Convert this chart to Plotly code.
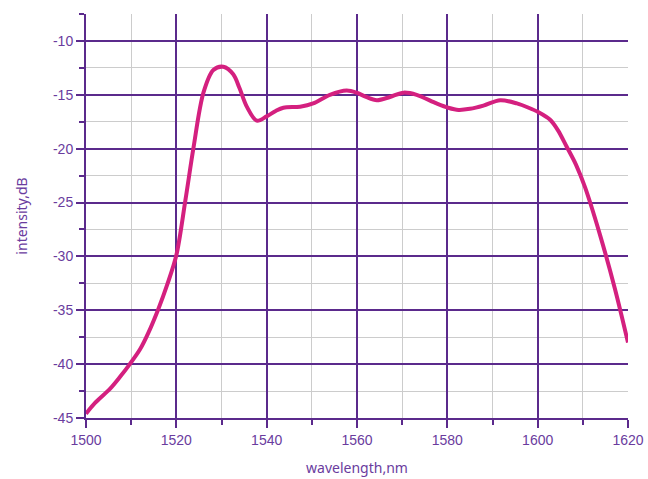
import plotly.graph_objects as go

wavelength = [1500, 1502, 1505.3, 1507.5, 1509.7, 1512, 1513.8, 1516, 1518, 1520,
              1522, 1523.8, 1526, 1528.2, 1530.4, 1532.6, 1534, 1535.6, 1537.8, 1540,
              1542, 1543.7, 1547.4, 1550.3, 1554, 1557.7, 1559.9, 1562, 1564.4, 1567.3, 1570.3,
              1573.2, 1577.6, 1580.2, 1582.5, 1585, 1588, 1591.7, 1595.4, 1598, 1600.1,
              1602.7, 1604.5, 1606.4, 1608.5, 1610.5, 1613.8, 1617.1, 1620]
intensity = [-44.6, -43.6, -42.3, -41.2, -40.0, -38.6, -37.1, -34.9, -32.6, -29.9,
             -24.8, -19.9, -14.8, -12.7, -12.4, -13.1, -14.4, -16.1, -17.4, -17.0,
             -16.5, -16.2, -16.1, -15.8, -15.0, -14.6, -14.8, -15.2, -15.5, -15.2, -14.8,
             -15.0, -15.8, -16.2, -16.4, -16.3, -16.0, -15.5, -15.8, -16.2, -16.6,
             -17.3, -18.3, -19.8, -21.5, -23.6, -28.0, -33.0, -38.0]

x_major = [1500, 1520, 1540, 1560, 1580, 1600, 1620]
y_major = [-45, -40, -35, -30, -25, -20, -15, -10]

PURPLE = "#5b2a8c"
TEXT = "#6a3c9e"
MAG = "#d4207f"

fig = go.Figure()
fig.add_trace(go.Scatter(x=wavelength, y=intensity, mode="lines",
                         line=dict(color=MAG, width=4, shape="spline", smoothing=0.9),
                         showlegend=False, hoverinfo="skip"))

fig.update_layout(
    width=648, height=479,
    margin=dict(l=86, r=20, t=14, b=61, autoexpand=False),
    plot_bgcolor="white", paper_bgcolor="white",
    font=dict(family="Liberation Sans", color=TEXT, size=14),
)
fig.update_xaxes(
    range=[1500, 1620], tickvals=x_major, ticktext=[str(v) for v in x_major],
    showgrid=True, gridcolor=PURPLE, gridwidth=2,
    showline=True, linecolor=PURPLE, linewidth=2,
    ticks="outside", ticklen=8, tickwidth=2, tickcolor=PURPLE,
    minor=dict(dtick=10, tick0=1500, showgrid=True, gridcolor="#cccccc", gridwidth=1,
               ticks="outside", ticklen=5, tickwidth=2, tickcolor=PURPLE),
    title=dict(text="wavelength,nm", font=dict(family="Noto Sans", size=14, color=TEXT), standoff=16),
    zeroline=False, tickfont=dict(size=14, color=TEXT), automargin=False,
    ticklabeloverflow="allow",
)
fig.update_yaxes(
    range=[-45, -7.5], tickvals=y_major, ticktext=[str(v) for v in y_major],
    showgrid=True, gridcolor=PURPLE, gridwidth=2,
    showline=True, linecolor=PURPLE, linewidth=2,
    ticks="outside", ticklen=8, tickwidth=2, tickcolor=PURPLE,
    minor=dict(dtick=2.5, tick0=-45, showgrid=True, gridcolor="#cccccc", gridwidth=1,
               ticks="outside", ticklen=5, tickwidth=2, tickcolor=PURPLE),
    title=dict(text="intensity,dB", font=dict(family="Noto Sans", size=14, color=TEXT), standoff=22),
    zeroline=False, tickfont=dict(size=14, color=TEXT), automargin=False,
    ticklabeloverflow="allow",
)
# remove the browser's default 8px body margin so the 648x479 figure fills the window
fig.write_html("out.html",
               config={"displayModeBar": False},
               post_script="document.body.style.margin='0';document.body.style.overflow='hidden';")
